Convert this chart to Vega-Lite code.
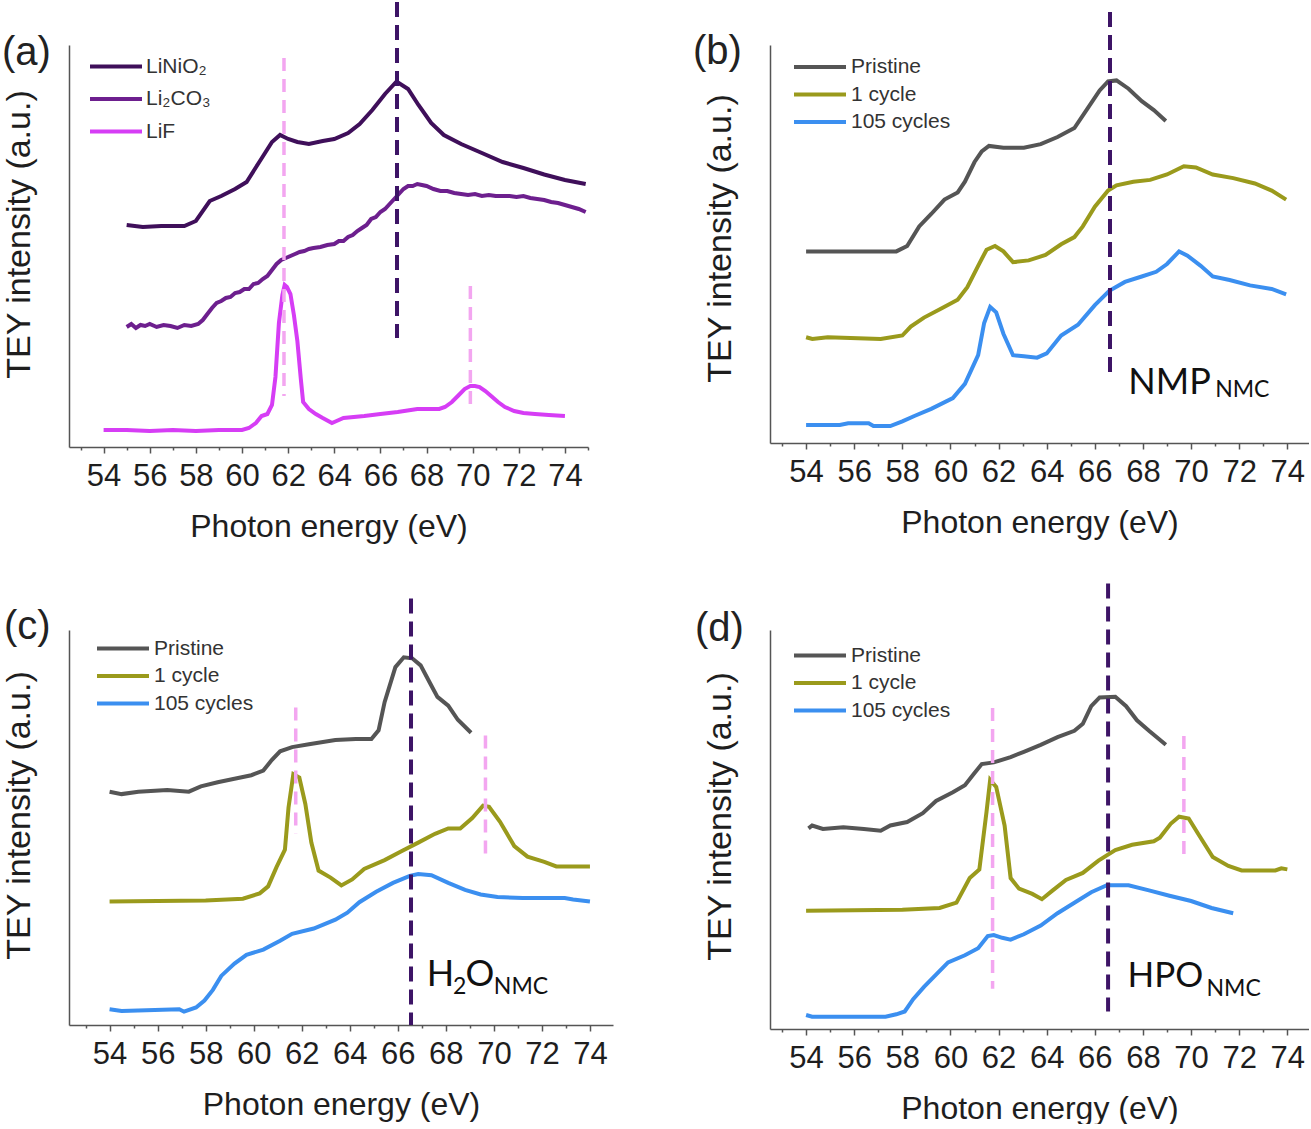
{
  "$schema": "https://vega.github.io/schema/vega-lite/v6.json",
  "background": "white",
  "padding": {"left": 2, "top": 0, "right": 0, "bottom": 0},
  "datasets": {
    "a": [
      {"e":55.0,"v":222,"s":"LiNiO₂"},{"e":55.7,"v":220,"s":"LiNiO₂"},{"e":56.5,"v":221,"s":"LiNiO₂"},{"e":57.5,"v":221,"s":"LiNiO₂"},{"e":58.0,"v":226,"s":"LiNiO₂"},{"e":58.6,"v":246,"s":"LiNiO₂"},{"e":59.1,"v":251,"s":"LiNiO₂"},{"e":59.7,"v":258,"s":"LiNiO₂"},{"e":60.2,"v":265,"s":"LiNiO₂"},{"e":60.75,"v":285,"s":"LiNiO₂"},{"e":61.3,"v":305,"s":"LiNiO₂"},{"e":61.65,"v":312,"s":"LiNiO₂"},{"e":62.0,"v":308,"s":"LiNiO₂"},{"e":62.4,"v":305,"s":"LiNiO₂"},{"e":62.9,"v":303,"s":"LiNiO₂"},{"e":63.5,"v":306,"s":"LiNiO₂"},{"e":64.0,"v":308,"s":"LiNiO₂"},{"e":64.6,"v":314,"s":"LiNiO₂"},{"e":65.1,"v":323,"s":"LiNiO₂"},{"e":65.65,"v":337,"s":"LiNiO₂"},{"e":66.2,"v":353,"s":"LiNiO₂"},{"e":66.7,"v":365.5,"s":"LiNiO₂"},{"e":67.2,"v":358,"s":"LiNiO₂"},{"e":67.65,"v":342,"s":"LiNiO₂"},{"e":68.2,"v":324,"s":"LiNiO₂"},{"e":68.75,"v":312,"s":"LiNiO₂"},{"e":69.5,"v":303,"s":"LiNiO₂"},{"e":70.4,"v":294,"s":"LiNiO₂"},{"e":71.3,"v":285,"s":"LiNiO₂"},{"e":72.2,"v":279,"s":"LiNiO₂"},{"e":73.1,"v":272.5,"s":"LiNiO₂"},{"e":74.0,"v":267,"s":"LiNiO₂"},{"e":74.9,"v":263,"s":"LiNiO₂"},
      {"e":55.0,"v":120,"s":"Li₂CO₃"},{"e":55.2,"v":123,"s":"Li₂CO₃"},{"e":55.4,"v":119,"s":"Li₂CO₃"},{"e":55.6,"v":122,"s":"Li₂CO₃"},{"e":55.8,"v":121,"s":"Li₂CO₃"},{"e":56.0,"v":123,"s":"Li₂CO₃"},{"e":56.3,"v":120,"s":"Li₂CO₃"},{"e":56.6,"v":122,"s":"Li₂CO₃"},{"e":56.9,"v":121,"s":"Li₂CO₃"},{"e":57.2,"v":119,"s":"Li₂CO₃"},{"e":57.5,"v":122,"s":"Li₂CO₃"},{"e":57.8,"v":121,"s":"Li₂CO₃"},{"e":58.1,"v":123,"s":"Li₂CO₃"},{"e":58.3,"v":127,"s":"Li₂CO₃"},{"e":58.5,"v":133,"s":"Li₂CO₃"},{"e":58.7,"v":139,"s":"Li₂CO₃"},{"e":58.9,"v":144,"s":"Li₂CO₃"},{"e":59.1,"v":146,"s":"Li₂CO₃"},{"e":59.3,"v":149,"s":"Li₂CO₃"},{"e":59.5,"v":150,"s":"Li₂CO₃"},{"e":59.7,"v":154,"s":"Li₂CO₃"},{"e":59.9,"v":155,"s":"Li₂CO₃"},{"e":60.1,"v":158,"s":"Li₂CO₃"},{"e":60.3,"v":158,"s":"Li₂CO₃"},{"e":60.5,"v":163,"s":"Li₂CO₃"},{"e":60.7,"v":164,"s":"Li₂CO₃"},{"e":60.9,"v":168,"s":"Li₂CO₃"},{"e":61.1,"v":171,"s":"Li₂CO₃"},{"e":61.3,"v":177,"s":"Li₂CO₃"},{"e":61.5,"v":183,"s":"Li₂CO₃"},{"e":61.7,"v":187,"s":"Li₂CO₃"},{"e":61.9,"v":189,"s":"Li₂CO₃"},{"e":62.1,"v":191,"s":"Li₂CO₃"},{"e":62.3,"v":193,"s":"Li₂CO₃"},{"e":62.5,"v":195,"s":"Li₂CO₃"},{"e":62.7,"v":196,"s":"Li₂CO₃"},{"e":62.9,"v":198,"s":"Li₂CO₃"},{"e":63.1,"v":199,"s":"Li₂CO₃"},{"e":63.4,"v":200,"s":"Li₂CO₃"},{"e":63.7,"v":202,"s":"Li₂CO₃"},{"e":64.0,"v":203,"s":"Li₂CO₃"},{"e":64.2,"v":206,"s":"Li₂CO₃"},{"e":64.4,"v":206,"s":"Li₂CO₃"},{"e":64.6,"v":210,"s":"Li₂CO₃"},{"e":64.8,"v":212,"s":"Li₂CO₃"},{"e":65.0,"v":216,"s":"Li₂CO₃"},{"e":65.2,"v":219,"s":"Li₂CO₃"},{"e":65.4,"v":222,"s":"Li₂CO₃"},{"e":65.6,"v":228,"s":"Li₂CO₃"},{"e":65.8,"v":230,"s":"Li₂CO₃"},{"e":66.0,"v":235,"s":"Li₂CO₃"},{"e":66.2,"v":238,"s":"Li₂CO₃"},{"e":66.4,"v":243,"s":"Li₂CO₃"},{"e":66.6,"v":248,"s":"Li₂CO₃"},{"e":66.8,"v":253,"s":"Li₂CO₃"},{"e":67.0,"v":258,"s":"Li₂CO₃"},{"e":67.2,"v":261,"s":"Li₂CO₃"},{"e":67.4,"v":261,"s":"Li₂CO₃"},{"e":67.6,"v":263,"s":"Li₂CO₃"},{"e":67.8,"v":262,"s":"Li₂CO₃"},{"e":68.0,"v":261,"s":"Li₂CO₃"},{"e":68.3,"v":258,"s":"Li₂CO₃"},{"e":68.6,"v":256,"s":"Li₂CO₃"},{"e":68.9,"v":256,"s":"Li₂CO₃"},{"e":69.2,"v":254,"s":"Li₂CO₃"},{"e":69.5,"v":253,"s":"Li₂CO₃"},{"e":69.8,"v":252,"s":"Li₂CO₃"},{"e":70.1,"v":253,"s":"Li₂CO₃"},{"e":70.4,"v":251,"s":"Li₂CO₃"},{"e":70.7,"v":252,"s":"Li₂CO₃"},{"e":71.0,"v":251,"s":"Li₂CO₃"},{"e":71.3,"v":251,"s":"Li₂CO₃"},{"e":71.6,"v":251,"s":"Li₂CO₃"},{"e":71.9,"v":250,"s":"Li₂CO₃"},{"e":72.2,"v":251,"s":"Li₂CO₃"},{"e":72.5,"v":249,"s":"Li₂CO₃"},{"e":72.8,"v":248,"s":"Li₂CO₃"},{"e":73.1,"v":247,"s":"Li₂CO₃"},{"e":73.4,"v":245,"s":"Li₂CO₃"},{"e":73.7,"v":244,"s":"Li₂CO₃"},{"e":74.0,"v":242,"s":"Li₂CO₃"},{"e":74.3,"v":240,"s":"Li₂CO₃"},{"e":74.6,"v":238,"s":"Li₂CO₃"},{"e":74.9,"v":235,"s":"Li₂CO₃"},
      {"e":54.0,"v":17,"s":"LiF"},{"e":55.0,"v":17,"s":"LiF"},{"e":56.0,"v":16,"s":"LiF"},{"e":57.0,"v":17,"s":"LiF"},{"e":58.0,"v":16,"s":"LiF"},{"e":59.0,"v":17,"s":"LiF"},{"e":60.0,"v":17,"s":"LiF"},{"e":60.3,"v":19,"s":"LiF"},{"e":60.6,"v":24,"s":"LiF"},{"e":60.85,"v":31,"s":"LiF"},{"e":61.1,"v":33,"s":"LiF"},{"e":61.3,"v":42,"s":"LiF"},{"e":61.45,"v":70,"s":"LiF"},{"e":61.6,"v":124,"s":"LiF"},{"e":61.75,"v":152,"s":"LiF"},{"e":61.85,"v":162,"s":"LiF"},{"e":61.95,"v":160,"s":"LiF"},{"e":62.1,"v":153,"s":"LiF"},{"e":62.25,"v":132,"s":"LiF"},{"e":62.4,"v":106,"s":"LiF"},{"e":62.55,"v":68,"s":"LiF"},{"e":62.65,"v":45,"s":"LiF"},{"e":62.9,"v":38,"s":"LiF"},{"e":63.2,"v":33,"s":"LiF"},{"e":63.5,"v":29,"s":"LiF"},{"e":63.9,"v":24,"s":"LiF"},{"e":64.1,"v":26,"s":"LiF"},{"e":64.4,"v":29,"s":"LiF"},{"e":65.3,"v":31,"s":"LiF"},{"e":66.0,"v":33,"s":"LiF"},{"e":66.75,"v":35,"s":"LiF"},{"e":67.6,"v":38,"s":"LiF"},{"e":68.55,"v":38,"s":"LiF"},{"e":68.8,"v":40,"s":"LiF"},{"e":69.1,"v":45,"s":"LiF"},{"e":69.4,"v":52,"s":"LiF"},{"e":69.65,"v":58,"s":"LiF"},{"e":69.9,"v":61,"s":"LiF"},{"e":70.1,"v":61,"s":"LiF"},{"e":70.3,"v":60,"s":"LiF"},{"e":70.55,"v":56,"s":"LiF"},{"e":70.8,"v":51,"s":"LiF"},{"e":71.1,"v":45,"s":"LiF"},{"e":71.4,"v":40,"s":"LiF"},{"e":71.8,"v":36,"s":"LiF"},{"e":72.2,"v":34,"s":"LiF"},{"e":72.7,"v":33,"s":"LiF"},{"e":73.3,"v":32,"s":"LiF"},{"e":74.0,"v":31,"s":"LiF"}
    ],
    "b": [
      {"e":54.0,"v":191.6,"s":"Pristine"},{"e":55.9,"v":191.6,"s":"Pristine"},{"e":57.75,"v":191.6,"s":"Pristine"},{"e":58.2,"v":197,"s":"Pristine"},{"e":58.7,"v":216.6,"s":"Pristine"},{"e":59.2,"v":229,"s":"Pristine"},{"e":59.75,"v":243.4,"s":"Pristine"},{"e":60.3,"v":250.6,"s":"Pristine"},{"e":60.6,"v":261.3,"s":"Pristine"},{"e":61.0,"v":281,"s":"Pristine"},{"e":61.3,"v":291.7,"s":"Pristine"},{"e":61.6,"v":297.1,"s":"Pristine"},{"e":62.2,"v":295.3,"s":"Pristine"},{"e":63.05,"v":295.3,"s":"Pristine"},{"e":63.75,"v":298.9,"s":"Pristine"},{"e":64.45,"v":306,"s":"Pristine"},{"e":65.15,"v":315,"s":"Pristine"},{"e":65.7,"v":334.7,"s":"Pristine"},{"e":66.2,"v":352.6,"s":"Pristine"},{"e":66.55,"v":361.5,"s":"Pristine"},{"e":66.9,"v":362.6,"s":"Pristine"},{"e":67.4,"v":354.3,"s":"Pristine"},{"e":67.95,"v":341.8,"s":"Pristine"},{"e":68.45,"v":332.9,"s":"Pristine"},{"e":68.95,"v":322.1,"s":"Pristine"},
      {"e":54.0,"v":105.7,"s":"1 cycle"},{"e":54.26,"v":104,"s":"1 cycle"},{"e":54.9,"v":105.7,"s":"1 cycle"},{"e":57.1,"v":104,"s":"1 cycle"},{"e":58.0,"v":107.5,"s":"1 cycle"},{"e":58.35,"v":116.4,"s":"1 cycle"},{"e":58.9,"v":125.4,"s":"1 cycle"},{"e":59.6,"v":134.3,"s":"1 cycle"},{"e":60.3,"v":143.3,"s":"1 cycle"},{"e":60.7,"v":155.8,"s":"1 cycle"},{"e":61.15,"v":177.2,"s":"1 cycle"},{"e":61.5,"v":193.3,"s":"1 cycle"},{"e":61.85,"v":197,"s":"1 cycle"},{"e":62.2,"v":191.6,"s":"1 cycle"},{"e":62.6,"v":180.8,"s":"1 cycle"},{"e":63.25,"v":182.6,"s":"1 cycle"},{"e":63.95,"v":188,"s":"1 cycle"},{"e":64.6,"v":198.7,"s":"1 cycle"},{"e":65.15,"v":205.9,"s":"1 cycle"},{"e":65.5,"v":216.6,"s":"1 cycle"},{"e":66.0,"v":236.3,"s":"1 cycle"},{"e":66.55,"v":252.4,"s":"1 cycle"},{"e":66.9,"v":257.7,"s":"1 cycle"},{"e":67.6,"v":261.3,"s":"1 cycle"},{"e":68.3,"v":263.1,"s":"1 cycle"},{"e":69.0,"v":268.5,"s":"1 cycle"},{"e":69.7,"v":276.7,"s":"1 cycle"},{"e":70.2,"v":275.6,"s":"1 cycle"},{"e":70.9,"v":268.5,"s":"1 cycle"},{"e":71.75,"v":264.9,"s":"1 cycle"},{"e":72.65,"v":259.5,"s":"1 cycle"},{"e":73.35,"v":252.4,"s":"1 cycle"},{"e":73.95,"v":243.4,"s":"1 cycle"},
      {"e":54.0,"v":18,"s":"105 cycles"},{"e":55.4,"v":18,"s":"105 cycles"},{"e":55.75,"v":19.8,"s":"105 cycles"},{"e":56.6,"v":19.8,"s":"105 cycles"},{"e":56.8,"v":17,"s":"105 cycles"},{"e":57.5,"v":17,"s":"105 cycles"},{"e":58.0,"v":21.6,"s":"105 cycles"},{"e":58.5,"v":27,"s":"105 cycles"},{"e":59.2,"v":34.1,"s":"105 cycles"},{"e":60.1,"v":44.9,"s":"105 cycles"},{"e":60.6,"v":59.2,"s":"105 cycles"},{"e":61.15,"v":87.8,"s":"105 cycles"},{"e":61.4,"v":120,"s":"105 cycles"},{"e":61.65,"v":136.1,"s":"105 cycles"},{"e":61.9,"v":130.7,"s":"105 cycles"},{"e":62.2,"v":109.3,"s":"105 cycles"},{"e":62.6,"v":87.8,"s":"105 cycles"},{"e":63.05,"v":86.7,"s":"105 cycles"},{"e":63.6,"v":85.3,"s":"105 cycles"},{"e":64.0,"v":89.6,"s":"105 cycles"},{"e":64.6,"v":107.5,"s":"105 cycles"},{"e":65.3,"v":118.2,"s":"105 cycles"},{"e":66.0,"v":137.9,"s":"105 cycles"},{"e":66.6,"v":152.2,"s":"105 cycles"},{"e":67.25,"v":161.1,"s":"105 cycles"},{"e":67.95,"v":166.5,"s":"105 cycles"},{"e":68.55,"v":171.2,"s":"105 cycles"},{"e":69.0,"v":179,"s":"105 cycles"},{"e":69.5,"v":191.6,"s":"105 cycles"},{"e":69.85,"v":187.3,"s":"105 cycles"},{"e":70.4,"v":177.2,"s":"105 cycles"},{"e":70.9,"v":166.5,"s":"105 cycles"},{"e":71.6,"v":163,"s":"105 cycles"},{"e":72.45,"v":157.6,"s":"105 cycles"},{"e":73.35,"v":154,"s":"105 cycles"},{"e":73.95,"v":148.6,"s":"105 cycles"}
    ],
    "c": [
      {"e":54.0,"v":233.3,"s":"Pristine"},{"e":54.5,"v":230.9,"s":"Pristine"},{"e":55.2,"v":233.3,"s":"Pristine"},{"e":56.4,"v":235.1,"s":"Pristine"},{"e":57.3,"v":233.3,"s":"Pristine"},{"e":57.8,"v":238.6,"s":"Pristine"},{"e":58.5,"v":242.8,"s":"Pristine"},{"e":59.2,"v":246.3,"s":"Pristine"},{"e":59.9,"v":249.8,"s":"Pristine"},{"e":60.4,"v":254.4,"s":"Pristine"},{"e":60.75,"v":264.9,"s":"Pristine"},{"e":61.1,"v":273.7,"s":"Pristine"},{"e":61.6,"v":277.9,"s":"Pristine"},{"e":62.3,"v":280.7,"s":"Pristine"},{"e":63.4,"v":284.9,"s":"Pristine"},{"e":64.25,"v":286,"s":"Pristine"},{"e":64.9,"v":286,"s":"Pristine"},{"e":65.2,"v":294.7,"s":"Pristine"},{"e":65.45,"v":322.8,"s":"Pristine"},{"e":65.9,"v":357.9,"s":"Pristine"},{"e":66.25,"v":367.7,"s":"Pristine"},{"e":66.6,"v":366.7,"s":"Pristine"},{"e":66.95,"v":359.6,"s":"Pristine"},{"e":67.3,"v":343.8,"s":"Pristine"},{"e":67.65,"v":328.1,"s":"Pristine"},{"e":68.1,"v":319.3,"s":"Pristine"},{"e":68.5,"v":305.2,"s":"Pristine"},{"e":69.05,"v":292.3,"s":"Pristine"},
      {"e":54.0,"v":123.5,"s":"1 cycle"},{"e":58.0,"v":124.6,"s":"1 cycle"},{"e":59.55,"v":126.3,"s":"1 cycle"},{"e":60.25,"v":131.6,"s":"1 cycle"},{"e":60.6,"v":138.6,"s":"1 cycle"},{"e":60.95,"v":157.9,"s":"1 cycle"},{"e":61.3,"v":175.4,"s":"1 cycle"},{"e":61.45,"v":217.5,"s":"1 cycle"},{"e":61.65,"v":250.9,"s":"1 cycle"},{"e":61.9,"v":247.4,"s":"1 cycle"},{"e":62.15,"v":221,"s":"1 cycle"},{"e":62.4,"v":182.4,"s":"1 cycle"},{"e":62.7,"v":154.4,"s":"1 cycle"},{"e":63.2,"v":147.4,"s":"1 cycle"},{"e":63.65,"v":139.6,"s":"1 cycle"},{"e":64.1,"v":145.6,"s":"1 cycle"},{"e":64.6,"v":156.1,"s":"1 cycle"},{"e":65.45,"v":164.9,"s":"1 cycle"},{"e":66.15,"v":173.7,"s":"1 cycle"},{"e":66.85,"v":182.4,"s":"1 cycle"},{"e":67.55,"v":191.2,"s":"1 cycle"},{"e":68.1,"v":196.5,"s":"1 cycle"},{"e":68.6,"v":196.5,"s":"1 cycle"},{"e":69.1,"v":207,"s":"1 cycle"},{"e":69.55,"v":219.3,"s":"1 cycle"},{"e":69.8,"v":218.2,"s":"1 cycle"},{"e":70.25,"v":203.5,"s":"1 cycle"},{"e":70.85,"v":178.9,"s":"1 cycle"},{"e":71.4,"v":168.4,"s":"1 cycle"},{"e":72.1,"v":163.1,"s":"1 cycle"},{"e":72.6,"v":158.6,"s":"1 cycle"},{"e":74.0,"v":158.6,"s":"1 cycle"},
      {"e":54.0,"v":15.8,"s":"105 cycles"},{"e":54.5,"v":14,"s":"105 cycles"},{"e":56.9,"v":15.8,"s":"105 cycles"},{"e":57.1,"v":13.3,"s":"105 cycles"},{"e":57.6,"v":17.5,"s":"105 cycles"},{"e":57.95,"v":24.5,"s":"105 cycles"},{"e":58.3,"v":35.1,"s":"105 cycles"},{"e":58.65,"v":49.1,"s":"105 cycles"},{"e":59.2,"v":61.4,"s":"105 cycles"},{"e":59.7,"v":70.2,"s":"105 cycles"},{"e":60.4,"v":75.4,"s":"105 cycles"},{"e":61.1,"v":84.2,"s":"105 cycles"},{"e":61.6,"v":91.2,"s":"105 cycles"},{"e":62.5,"v":96.5,"s":"105 cycles"},{"e":63.4,"v":105.3,"s":"105 cycles"},{"e":63.9,"v":112.3,"s":"105 cycles"},{"e":64.4,"v":122.8,"s":"105 cycles"},{"e":65.1,"v":133.3,"s":"105 cycles"},{"e":65.8,"v":142.1,"s":"105 cycles"},{"e":66.5,"v":149.1,"s":"105 cycles"},{"e":66.85,"v":150.9,"s":"105 cycles"},{"e":67.4,"v":149.8,"s":"105 cycles"},{"e":68.1,"v":142.1,"s":"105 cycles"},{"e":68.8,"v":135.1,"s":"105 cycles"},{"e":69.45,"v":130.5,"s":"105 cycles"},{"e":70.15,"v":128,"s":"105 cycles"},{"e":71.2,"v":127,"s":"105 cycles"},{"e":72.95,"v":127,"s":"105 cycles"},{"e":73.3,"v":125.6,"s":"105 cycles"},{"e":74.0,"v":123.5,"s":"105 cycles"}
    ],
    "d": [
      {"e":54.1,"v":200.7,"s":"Pristine"},{"e":54.25,"v":203.5,"s":"Pristine"},{"e":54.7,"v":200,"s":"Pristine"},{"e":55.55,"v":201.7,"s":"Pristine"},{"e":56.4,"v":200,"s":"Pristine"},{"e":57.1,"v":198.2,"s":"Pristine"},{"e":57.5,"v":203.5,"s":"Pristine"},{"e":58.2,"v":207,"s":"Pristine"},{"e":58.85,"v":215.8,"s":"Pristine"},{"e":59.4,"v":228,"s":"Pristine"},{"e":60.1,"v":236.8,"s":"Pristine"},{"e":60.6,"v":243.8,"s":"Pristine"},{"e":60.95,"v":254.4,"s":"Pristine"},{"e":61.3,"v":264.9,"s":"Pristine"},{"e":61.8,"v":266.6,"s":"Pristine"},{"e":62.5,"v":271.9,"s":"Pristine"},{"e":63.05,"v":277.2,"s":"Pristine"},{"e":63.75,"v":284.2,"s":"Pristine"},{"e":64.45,"v":291.9,"s":"Pristine"},{"e":65.15,"v":298.2,"s":"Pristine"},{"e":65.5,"v":305.2,"s":"Pristine"},{"e":65.85,"v":322.8,"s":"Pristine"},{"e":66.2,"v":331.6,"s":"Pristine"},{"e":66.85,"v":332.3,"s":"Pristine"},{"e":67.3,"v":322.8,"s":"Pristine"},{"e":67.75,"v":308.7,"s":"Pristine"},{"e":68.25,"v":298.2,"s":"Pristine"},{"e":68.95,"v":284.2,"s":"Pristine"},
      {"e":54.0,"v":118.2,"s":"1 cycle"},{"e":58.0,"v":119.3,"s":"1 cycle"},{"e":59.55,"v":121,"s":"1 cycle"},{"e":60.25,"v":126.3,"s":"1 cycle"},{"e":60.8,"v":150.9,"s":"1 cycle"},{"e":61.2,"v":159.6,"s":"1 cycle"},{"e":61.5,"v":217.5,"s":"1 cycle"},{"e":61.65,"v":249.1,"s":"1 cycle"},{"e":61.9,"v":242.1,"s":"1 cycle"},{"e":62.25,"v":203.5,"s":"1 cycle"},{"e":62.5,"v":150.9,"s":"1 cycle"},{"e":62.85,"v":140.3,"s":"1 cycle"},{"e":63.4,"v":135.1,"s":"1 cycle"},{"e":63.8,"v":129.8,"s":"1 cycle"},{"e":64.25,"v":138.6,"s":"1 cycle"},{"e":64.8,"v":149.1,"s":"1 cycle"},{"e":65.5,"v":156.1,"s":"1 cycle"},{"e":66.15,"v":168.4,"s":"1 cycle"},{"e":66.85,"v":178.9,"s":"1 cycle"},{"e":67.55,"v":184.2,"s":"1 cycle"},{"e":68.45,"v":187.7,"s":"1 cycle"},{"e":68.7,"v":191.2,"s":"1 cycle"},{"e":69.15,"v":205.2,"s":"1 cycle"},{"e":69.5,"v":212.3,"s":"1 cycle"},{"e":69.9,"v":210.5,"s":"1 cycle"},{"e":70.35,"v":193,"s":"1 cycle"},{"e":70.9,"v":171.9,"s":"1 cycle"},{"e":71.55,"v":163.1,"s":"1 cycle"},{"e":72.1,"v":158.6,"s":"1 cycle"},{"e":73.5,"v":158.6,"s":"1 cycle"},{"e":73.75,"v":160.7,"s":"1 cycle"},{"e":74.0,"v":159.6,"s":"1 cycle"},
      {"e":54.0,"v":14,"s":"105 cycles"},{"e":54.25,"v":12.3,"s":"105 cycles"},{"e":57.3,"v":12.3,"s":"105 cycles"},{"e":57.75,"v":14.7,"s":"105 cycles"},{"e":58.1,"v":17.5,"s":"105 cycles"},{"e":58.45,"v":29.8,"s":"105 cycles"},{"e":58.9,"v":42.1,"s":"105 cycles"},{"e":59.4,"v":54.4,"s":"105 cycles"},{"e":59.9,"v":66.6,"s":"105 cycles"},{"e":60.6,"v":73.7,"s":"105 cycles"},{"e":61.15,"v":80.7,"s":"105 cycles"},{"e":61.55,"v":92.9,"s":"105 cycles"},{"e":61.8,"v":94,"s":"105 cycles"},{"e":62.15,"v":91.2,"s":"105 cycles"},{"e":62.5,"v":89.4,"s":"105 cycles"},{"e":63.05,"v":94.7,"s":"105 cycles"},{"e":63.75,"v":103.5,"s":"105 cycles"},{"e":64.45,"v":115.8,"s":"105 cycles"},{"e":65.15,"v":126.3,"s":"105 cycles"},{"e":65.85,"v":136.8,"s":"105 cycles"},{"e":66.5,"v":143.8,"s":"105 cycles"},{"e":67.4,"v":143.8,"s":"105 cycles"},{"e":68.25,"v":138.6,"s":"105 cycles"},{"e":69.1,"v":133.3,"s":"105 cycles"},{"e":70.0,"v":128,"s":"105 cycles"},{"e":70.85,"v":121,"s":"105 cycles"},{"e":71.75,"v":115.8,"s":"105 cycles"}
    ],
    "rules": [
      {"p":"a","k":"dark","e":66.72,"v":445,"v2":109},
      {"p":"a","k":"pink","e":61.82,"v":389,"v2":51},
      {"p":"a","k":"pink","e":69.9,"v":161,"v2":36},
      {"p":"b","k":"dark","e":66.63,"v":431,"v2":64.5},
      {"p":"c","k":"dark","e":66.55,"v":426.6,"v2":0},
      {"p":"c","k":"pink","e":61.75,"v":317.5,"v2":191.2},
      {"p":"c","k":"pink","e":69.65,"v":289.5,"v2":164.9},
      {"p":"d","k":"dark","e":66.55,"v":445.6,"v2":17.5},
      {"p":"d","k":"pink","e":61.75,"v":321,"v2":40.3},
      {"p":"d","k":"pink","e":69.7,"v":293,"v2":168.4}
    ],
    "notes": [
      {"p":"b","r":"main","t":"NMP","e":67.39,"v":48.7},
      {"p":"b","r":"sub","t":"NMC","e":71.0,"v":46},
      {"p":"c","r":"main","t":"H","e":67.21,"v":38.9},
      {"p":"c","r":"sub","t":"2","e":68.3,"v":30.6},
      {"p":"c","r":"main","t":"O","e":68.82,"v":38.9},
      {"p":"c","r":"sub","t":"NMC","e":70.0,"v":30.6},
      {"p":"d","r":"main","t":"HPO","e":67.36,"v":42.4},
      {"p":"d","r":"sub","t":"NMC","e":70.64,"v":33.4}
    ]
  },
  "columns": 2,
  "spacing": {"row": 183, "column": 157},
  "bounds": "flush",
  "resolve": {
    "scale": {"x": "independent", "y": "independent", "color": "independent"},
    "legend": {"color": "independent"}
  },
  "concat": [
    {
      "width": 519,
      "height": 402,
      "title": {"text": "(a)", "dx": -67, "dy": 77},
      "encoding": {
        "x": {"field": "e", "type": "quantitative", "scale": {"domain": [52.5, 75], "nice": false, "zero": false},
          "axis": {"title": "Photon energy (eV)", "values": [53,54,55,56,57,58,59,60,61,62,63,64,65,66,67,68,69,70,71,72,73,74,75],
            "labelExpr": "datum.value % 2 == 0 ? datum.label : ''",
            "tickSize": {"condition": {"test": "datum.value % 2 == 0", "value": 6}, "value": 3}}},
        "y": {"field": "v", "type": "quantitative", "scale": {"domain": [0, 402], "nice": false, "zero": false},
          "axis": {"title": "TEY intensity (a.u.)", "titleY": 189}}
      },
      "layer": [
        {
          "data": {"name": "a"},
          "mark": {"type": "line", "strokeWidth": 4},
          "encoding": {
            "color": {"field": "s", "type": "nominal",
              "scale": {"domain": ["LiNiO₂", "Li₂CO₃", "LiF"], "range": ["#3f0f5a", "#6d1f8e", "#d63df5"]},
              "legend": {"title": null, "orient": "none", "legendX": 32, "legendY": 6.5, "rowPadding": 7.5, "labelOffset": 15}}
          }
        },
        {
          "data": {"name": "rules"},
          "transform": [{"filter": "datum.p == 'a' && datum.k == 'pink'"}],
          "mark": {"type": "rule", "color": "#f3a6f0", "strokeWidth": 3.5, "strokeDash": [13, 8]},
          "encoding": {"y2": {"field": "v2"}}
        },
        {
          "data": {"name": "rules"},
          "transform": [{"filter": "datum.p == 'a' && datum.k == 'dark'"}],
          "mark": {"type": "rule", "color": "#3d1466", "strokeWidth": 4, "strokeDash": [15, 8]},
          "encoding": {"y2": {"field": "v2"}}
        }
      ]
    },
    {
      "width": 539,
      "height": 398,
      "title": {"text": "(b)", "dx": -77, "dy": 66},
      "encoding": {
        "x": {"field": "e", "type": "quantitative", "scale": {"domain": [52.5, 74.9], "nice": false, "zero": false},
          "axis": {"title": "Photon energy (eV)", "values": [53,54,55,56,57,58,59,60,61,62,63,64,65,66,67,68,69,70,71,72,73,74],
            "labelExpr": "datum.value % 2 == 0 ? datum.label : ''",
            "tickSize": {"condition": {"test": "datum.value % 2 == 0", "value": 6}, "value": 3}}},
        "y": {"field": "v", "type": "quantitative", "scale": {"domain": [0, 398], "nice": false, "zero": false},
          "axis": {"title": "TEY intensity (a.u.)", "titleY": 193}}
      },
      "layer": [
        {
          "data": {"name": "b"},
          "mark": {"type": "line", "strokeWidth": 4},
          "encoding": {
            "color": {"field": "s", "type": "nominal",
              "scale": {"domain": ["Pristine", "1 cycle", "105 cycles"], "range": ["#555555", "#9a9a1c", "#3b8ff0"]},
              "legend": {"title": null, "orient": "none", "legendX": 35, "legendY": 7, "rowPadding": 2.5, "labelOffset": 16}}
          }
        },
        {
          "data": {"name": "rules"},
          "transform": [{"filter": "datum.p == 'b' && datum.k == 'dark'"}],
          "mark": {"type": "rule", "color": "#3d1466", "strokeWidth": 4, "strokeDash": [15, 8]},
          "encoding": {"y2": {"field": "v2"}}
        },
        {
          "data": {"name": "notes"},
          "transform": [{"filter": "datum.p == 'b' && datum.r == 'main'"}],
          "mark": {"type": "text", "font": "Lato", "fontSize": 36, "align": "left", "baseline": "alphabetic", "color": "#111111"},
          "encoding": {"text": {"field": "t"}}
        },
        {
          "data": {"name": "notes"},
          "transform": [{"filter": "datum.p == 'b' && datum.r == 'sub'"}],
          "mark": {"type": "text", "font": "Lato", "fontSize": 23, "align": "left", "baseline": "alphabetic", "color": "#111111"},
          "encoding": {"text": {"field": "t"}}
        }
      ]
    },
    {
      "width": 544,
      "height": 395,
      "title": {"text": "(c)", "dx": -65, "dy": 55},
      "encoding": {
        "x": {"field": "e", "type": "quantitative", "scale": {"domain": [52.31, 74.96], "nice": false, "zero": false},
          "axis": {"title": "Photon energy (eV)", "values": [53,54,55,56,57,58,59,60,61,62,63,64,65,66,67,68,69,70,71,72,73,74],
            "labelExpr": "datum.value % 2 == 0 ? datum.label : ''",
            "tickSize": {"condition": {"test": "datum.value % 2 == 0", "value": 6}, "value": 3}}},
        "y": {"field": "v", "type": "quantitative", "scale": {"domain": [0, 395], "nice": false, "zero": false},
          "axis": {"title": "TEY intensity (a.u.)", "titleY": 185}}
      },
      "layer": [
        {
          "data": {"name": "c"},
          "mark": {"type": "line", "strokeWidth": 4},
          "encoding": {
            "color": {"field": "s", "type": "nominal",
              "scale": {"domain": ["Pristine", "1 cycle", "105 cycles"], "range": ["#555555", "#9a9a1c", "#3b8ff0"]},
              "legend": {"title": null, "orient": "none", "legendX": 39, "legendY": 3.5, "rowPadding": 2.5, "labelOffset": 16}}
          }
        },
        {
          "data": {"name": "rules"},
          "transform": [{"filter": "datum.p == 'c' && datum.k == 'pink'"}],
          "mark": {"type": "rule", "color": "#f3a6f0", "strokeWidth": 3.5, "strokeDash": [13, 8]},
          "encoding": {"y2": {"field": "v2"}}
        },
        {
          "data": {"name": "rules"},
          "transform": [{"filter": "datum.p == 'c' && datum.k == 'dark'"}],
          "mark": {"type": "rule", "color": "#3d1466", "strokeWidth": 4, "strokeDash": [15, 8]},
          "encoding": {"y2": {"field": "v2"}}
        },
        {
          "data": {"name": "notes"},
          "transform": [{"filter": "datum.p == 'c' && datum.r == 'main'"}],
          "mark": {"type": "text", "font": "Lato", "fontSize": 36, "align": "left", "baseline": "alphabetic", "color": "#111111"},
          "encoding": {"text": {"field": "t"}}
        },
        {
          "data": {"name": "notes"},
          "transform": [{"filter": "datum.p == 'c' && datum.r == 'sub'"}],
          "mark": {"type": "text", "font": "Lato", "fontSize": 23, "align": "left", "baseline": "alphabetic", "color": "#111111"},
          "encoding": {"text": {"field": "t"}}
        }
      ]
    },
    {
      "width": 539,
      "height": 399,
      "title": {"text": "(d)", "dx": -75, "dy": 72},
      "encoding": {
        "x": {"field": "e", "type": "quantitative", "scale": {"domain": [52.5, 74.9], "nice": false, "zero": false},
          "axis": {"title": "Photon energy (eV)", "values": [53,54,55,56,57,58,59,60,61,62,63,64,65,66,67,68,69,70,71,72,73,74],
            "labelExpr": "datum.value % 2 == 0 ? datum.label : ''",
            "tickSize": {"condition": {"test": "datum.value % 2 == 0", "value": 6}, "value": 3}}},
        "y": {"field": "v", "type": "quantitative", "scale": {"domain": [0, 399], "nice": false, "zero": false},
          "axis": {"title": "TEY intensity (a.u.)", "titleY": 186}}
      },
      "layer": [
        {
          "data": {"name": "d"},
          "mark": {"type": "line", "strokeWidth": 4},
          "encoding": {
            "color": {"field": "s", "type": "nominal",
              "scale": {"domain": ["Pristine", "1 cycle", "105 cycles"], "range": ["#555555", "#9a9a1c", "#3b8ff0"]},
              "legend": {"title": null, "orient": "none", "legendX": 35, "legendY": 10.5, "rowPadding": 2.5, "labelOffset": 16}}
          }
        },
        {
          "data": {"name": "rules"},
          "transform": [{"filter": "datum.p == 'd' && datum.k == 'pink'"}],
          "mark": {"type": "rule", "color": "#f3a6f0", "strokeWidth": 3.5, "strokeDash": [13, 8]},
          "encoding": {"y2": {"field": "v2"}}
        },
        {
          "data": {"name": "rules"},
          "transform": [{"filter": "datum.p == 'd' && datum.k == 'dark'"}],
          "mark": {"type": "rule", "color": "#3d1466", "strokeWidth": 4, "strokeDash": [15, 8]},
          "encoding": {"y2": {"field": "v2"}}
        },
        {
          "data": {"name": "notes"},
          "transform": [{"filter": "datum.p == 'd' && datum.r == 'main'"}],
          "mark": {"type": "text", "font": "Lato", "fontSize": 35, "align": "left", "baseline": "alphabetic", "color": "#111111"},
          "encoding": {"text": {"field": "t"}}
        },
        {
          "data": {"name": "notes"},
          "transform": [{"filter": "datum.p == 'd' && datum.r == 'sub'"}],
          "mark": {"type": "text", "font": "Lato", "fontSize": 23, "align": "left", "baseline": "alphabetic", "color": "#111111"},
          "encoding": {"text": {"field": "t"}}
        }
      ]
    }
  ],
  "config": {
    "view": {"stroke": null},
    "font": "Liberation Sans",
    "title": {"anchor": "start", "frame": "group", "orient": "top", "offset": 0, "baseline": "bottom",
      "font": "Liberation Sans", "fontSize": 40, "fontWeight": "normal", "color": "#222222"},
    "axis": {"grid": false, "domainColor": "#555555", "domainWidth": 1.5, "tickColor": "#555555", "tickWidth": 1.5,
      "labelFont": "Liberation Sans", "labelFontSize": 31, "labelColor": "#1e1e1e", "labelOverlap": false, "labelFlush": false,
      "titleFont": "Liberation Sans", "titleFontSize": 32, "titleFontWeight": "normal", "titleColor": "#1e1e1e"},
    "axisX": {"labelPadding": 8, "titlePadding": 20},
    "axisY": {"ticks": false, "labels": false, "titleFontSize": 34, "titlePadding": 33},
    "legend": {"symbolType": "M-2,0H2", "symbolStrokeWidth": 4, "symbolSize": 676, "labelFont": "Liberation Sans",
      "labelFontSize": 21, "labelColor": "#333333", "padding": 0}
  }
}
